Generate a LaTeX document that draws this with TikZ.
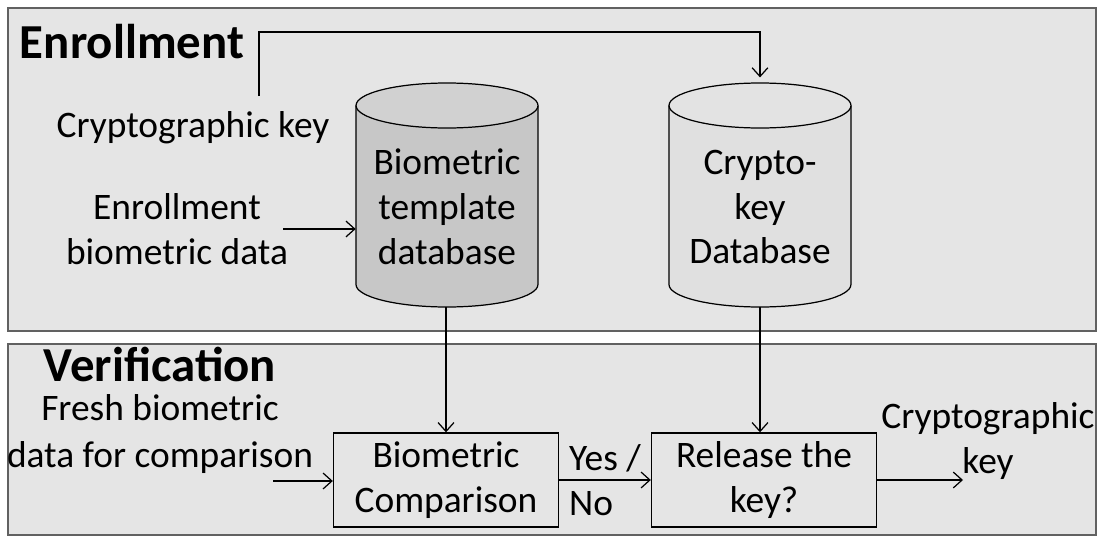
\documentclass[tikz,border=0pt]{standalone}
\usepackage{fontspec}
\setmainfont{Carlito}
\usetikzlibrary{arrows.meta,positioning}

\newcommand{\lblfont}{\fontsize{21.3}{25.5}\selectfont}
\newcommand{\ttlfont}{\fontsize{27.8}{30}\selectfont\bfseries}
% cylinder at centre (#1,#2), body fill #3, top fill #4
\newcommand{\dbcyl}[4]{%
  \filldraw[dbline, fill=#3] (#1-91,#2-89.5) -- (#1-91,#2+89.5)
    arc[start angle=180, end angle=360, x radius=1.82cm, y radius=0.45cm]
    -- (#1+91,#2-89.5);
  \filldraw[dbline, fill=#4] (#1,#2-89.5) ellipse [x radius=1.82cm, y radius=0.45cm];
}

\tikzset{
  panel/.style={draw=black!62, line width=1.3pt, fill=black!10},
  ttl/.style={font=\ttlfont, inner sep=0pt, text depth=0pt},
  lbl/.style={align=center, font=\lblfont, inner sep=0pt},
  dbline/.style={line width=0.7pt},
  db/.style={minimum width=3.64cm, minimum height=4.48cm, inner sep=0pt},
  dbtext/.style={lbl, yshift=-0.24cm},
  procbox/.style={draw, line width=0.8pt, minimum width=4.5cm,
    minimum height=1.88cm, align=center, font=\lblfont, inner sep=0pt},
  arr/.style={-{Straight Barb[length=5pt,width=9pt]}, line width=0.7pt},
}

\begin{document}
\begin{tikzpicture}[x=0.02cm, y=-0.02cm]
  \useasboundingbox (0,0) rectangle (1103,541);
  % panels
  \draw[panel] (8,8) rectangle (1096,331);
  \draw[panel] (8,344) rectangle (1096,535);
  \node[ttl] (enroll) at (132,41) {Enrollment};
  \node[ttl] (verif) at (160,364) {Verification};

  % enrollment
  \node[lbl] (ckey) at (193,128) {Cryptographic key};
  \node[lbl] (edata) at (177,229) {Enrollment\\biometric data};
  \dbcyl{447}{195}{black!22}{black!18}
  \dbcyl{760}{195}{black!12}{black!11}
  \node[db, label={[dbtext]center:Biometric\\template\\database}] (bio) at (447,195) {};
  \node[db, label={[dbtext]center:Crypto-\\key\\Database}] (crypto) at (760,195) {};
  \coordinate (kstart) at (259,96);
  \draw[arr, shorten >=3pt] (kstart) -- (259,32) -| (crypto.north);
  \draw[arr] (283,229) -- (bio.west |- 0,229);

  % verification
  \node[lbl] (fresh) at (160,434) {Fresh biometric\\[1pt]data for comparison};
  \node[procbox] (comp) at (446,480) {Biometric\\Comparison};
  \node[procbox] (rel) at (764,480) {Release the\\key?};
  \node[lbl, align=left] (yesno) at (605,480) {Yes /\\No};
  \node[lbl] (outkey) at (988,441) {Cryptographic\\key};
  \coordinate (fstart) at (273,481);
  \coordinate (kend) at (963,480);

  \draw[arr] (fstart) -- (fstart -| comp.west);
  \draw[arr] (bio.south -| comp.north) -- (comp.north);
  \draw[arr] (crypto.south) -- (crypto.south |- rel.north);
  \draw[arr] (comp.east) -- (rel.west);
  \draw[arr] (rel.east) -- (kend);
\end{tikzpicture}
\end{document}
